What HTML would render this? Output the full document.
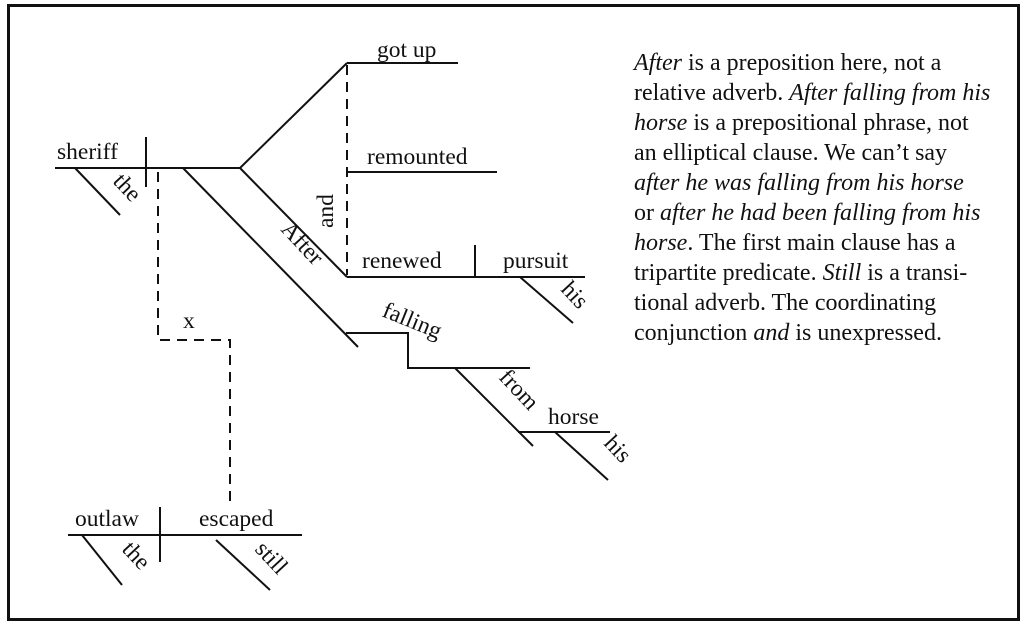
<!DOCTYPE html>
<html><head><meta charset="utf-8"><style>
html,body{margin:0;padding:0;background:#fff;}
svg{display:block;}
text{font-family:"Liberation Serif",serif;font-size:23.5px;fill:#111;}
.p{font-size:24px;}
</style></head><body>
<svg width="1027" height="629" viewBox="0 0 1027 629" xmlns="http://www.w3.org/2000/svg">
<rect x="8.5" y="5.5" width="1010" height="614" fill="none" stroke="#111" stroke-width="3"/>
<g stroke="#111" stroke-width="2" fill="none">
<line x1="55" y1="168" x2="240" y2="168"/>
<line x1="146" y1="137" x2="146" y2="187"/>
<line x1="75" y1="168" x2="120" y2="215"/>
<line x1="240" y1="168" x2="347" y2="63"/>
<line x1="347" y1="63" x2="458" y2="63"/>
<line x1="347" y1="172" x2="497" y2="172"/>
<line x1="240" y1="168" x2="347" y2="277"/>
<line x1="347" y1="277" x2="585" y2="277"/>
<line x1="475" y1="245" x2="475" y2="277"/>
<line x1="520" y1="277" x2="573" y2="323"/>
<line x1="183" y1="168" x2="358" y2="347"/>
<polyline points="346,333 408,333 408,368 530,368"/>
<line x1="455" y1="368" x2="533" y2="446"/>
<line x1="518" y1="432" x2="610" y2="432"/>
<line x1="555" y1="432" x2="608" y2="480"/>
<line x1="68" y1="535" x2="302" y2="535"/>
<line x1="160" y1="507" x2="160" y2="562"/>
<line x1="82" y1="535" x2="122" y2="585"/>
<line x1="216" y1="540" x2="270" y2="590"/>
</g>
<g stroke="#111" stroke-width="2" fill="none" stroke-dasharray="10,7">
<line x1="347" y1="65" x2="347" y2="275"/>
<polyline points="158,172 158,340 230,340 230,505"/>
</g>
<text x="377" y="57">got up</text>
<text x="367" y="164">remounted</text>
<text x="362" y="268">renewed</text>
<text x="503" y="268">pursuit</text>
<text x="57" y="159">sheriff</text>
<text x="183" y="328">x</text>
<text x="75" y="526">outlaw</text>
<text x="199" y="526">escaped</text>
<text x="548" y="424">horse</text>
<text transform="translate(333,228) rotate(-90)">and</text>
<text transform="translate(112,182) rotate(47)">the</text>
<text transform="translate(280,230) rotate(47)">After</text>
<text transform="translate(560,290) rotate(47)">his</text>
<text transform="translate(381,316) rotate(22)">falling</text>
<text transform="translate(498,378) rotate(47)">from</text>
<text transform="translate(603,444) rotate(47)">his</text>
<text transform="translate(121,550) rotate(47)">the</text>
<text transform="translate(254,550) rotate(47)">still</text>
<text class="p" x="634" y="70"><tspan font-style="italic">After</tspan> is a preposition here, not a</text>
<text class="p" x="634" y="100">relative adverb. <tspan font-style="italic">After falling from his</tspan></text>
<text class="p" x="634" y="130"><tspan font-style="italic">horse</tspan> is a prepositional phrase, not</text>
<text class="p" x="634" y="160">an elliptical clause. We can’t say</text>
<text class="p" x="634" y="190" font-style="italic">after he was falling from his horse</text>
<text class="p" x="634" y="220">or <tspan font-style="italic">after he had been falling from his</tspan></text>
<text class="p" x="634" y="250"><tspan font-style="italic">horse</tspan>. The first main clause has a</text>
<text class="p" x="634" y="280">tripartite predicate. <tspan font-style="italic">Still</tspan> is a transi-</text>
<text class="p" x="634" y="310">tional adverb. The coordinating</text>
<text class="p" x="634" y="340">conjunction <tspan font-style="italic">and</tspan> is unexpressed.</text>
</svg>
</body></html>
